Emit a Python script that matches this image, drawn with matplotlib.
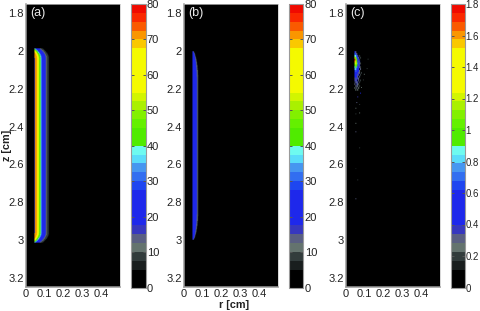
import numpy as np
import matplotlib
matplotlib.use("Agg")
import matplotlib.pyplot as plt
from matplotlib.colors import ListedColormap

plt.rcParams['font.family'] = ['Liberation Sans', 'DejaVu Sans']

W, H = 480, 311
# colormap levels, bottom to top, 32 equal steps
cmap_levels = [(0,0,0)]*2 + [(25,30,30),(50,60,60),(100,115,110),(90,95,130),(55,55,190)] \
    + [(30,40,235)]*4 + [(30,70,240),(50,110,240),(70,150,240),(90,220,250),(110,250,240)] \
    + [(80,235,0)]*2 + [(100,240,0),(130,240,0),(170,240,0),(210,245,0)] \
    + [(245,250,0)]*5 + [(250,200,0),(250,150,0),(250,90,0),(250,40,0),(240,10,0)]

# radial profiles, value against r
a_r = [0.046, 0.047, 0.058, 0.061, 0.067, 0.070, 0.075, 0.078, 0.083, 0.088, 0.098, 0.104, 0.108, 0.114, 0.122, 0.126]
a_v = [0, 71, 71, 62, 58, 46, 43, 38, 30, 25, 23, 18, 11, 9, 7, 0]
b_r = [0.044, 0.045, 0.052, 0.060, 0.066, 0.071, 0.076, 0.079]
b_v = [0, 20, 24, 23, 20, 12, 8, 0]
# how the band shrinks towards its ends, against the distance from the end
cap_d = [0.0, 0.006, 0.012, 0.02, 0.03, 0.04, 0.05, 0.06, 0.09, 0.14]
a_shift = [0.035, 0.027, 0.020, 0.013, 0.006, 0.002, 0.0, 0.0, 0.0, 0.0]
a_width = [1.0, 1.0, 1.0, 1.0, 1.0, 1.0, 1.0, 1.0, 1.0, 1.0]
b_shift = [0.0]*10
b_width = [0.20, 0.32, 0.42, 0.50, 0.58, 0.66, 0.72, 0.78, 0.90, 1.0]
a_z = (1.985, 3.015)
b_z = (2.0, 3.0)

# panel c: main blob, rows in z, columns in r
c_r0 = 0.046
c_dr = 0.005
c_z = [2.00, 2.01, 2.02, 2.03, 2.04, 2.05, 2.06, 2.07, 2.08, 2.09, 2.10, 2.11, 2.12, 2.13, 2.14, 2.15, 2.16, 2.17, 2.18, 2.19, 2.20]
c_table = [
    [.50, .30, 0, 0, 0, 0, 0, 0],
    [.70, .50, .30, 0, 0, 0, 0, 0],
    [.85, .80, .50, .35, 0, .2, 0, 0],
    [1.2, 1.0, .70, .40, .30, 0, .2, 0],
    [1.75, 1.1, .90, .50, .40, .20, 0, 0],
    [1.6, 1.2, 1.0, .60, .30, .45, 0, 0],
    [1.1, 1.3, 1.05, .70, .50, .30, .2, 0],
    [1.0, 1.1, .95, .55, .30, .50, 0, 0],
    [.80, .90, .75, .50, .60, .30, .2, 0],
    [.75, .80, .60, .55, .40, 0, .3, 0],
    [.60, .70, .55, .40, .50, .25, 0, 0],
    [.50, .60, .45, .50, .30, .30, 0, .2],
    [.45, .50, .40, .30, .40, 0, .2, 0],
    [.40, .45, .50, .30, 0, .30, 0, 0],
    [.30, .40, .30, .40, .25, 0, 0, 0],
    [.35, .30, .40, 0, .30, 0, .2, 0],
    [.20, .35, .25, .35, 0, .20, 0, 0],
    [.30, 0, .35, .25, .20, 0, 0, 0],
    [0, .30, .20, .30, 0, .20, 0, 0],
    [.25, 0, .30, 0, .25, 0, 0, 0],
    [0, .25, 0, .25, 0, 0, 0, 0],
]
# panel c: isolated specks
speck_r = [.068, .048, .048, .048, .068, .048, .059, .048, .110, .117, .095, .075, .060, .082, .055, .070, .052, .090]
speck_z = [2.324, 2.33, 2.378, 2.426, 2.511, 2.622, 2.68, 2.78, 2.09, 2.04, 2.12, 2.22, 2.24, 2.19, 2.27, 2.28, 2.30, 2.15]
speck_v = [.25, .2, .25, .3, .2, .15, .2, .3, .2, .2, .25, .4, .35, .25, .3, .2, .25, .2]

xticks = [0, 0.1, 0.2, 0.3, 0.4]
xticklabels = ['0', '0.1', '0.2', '0.3', '0.4']
zticks = [1.8, 2, 2.2, 2.4, 2.6, 2.8, 3, 3.2]
zticklabels = ['1.8', '2', '2.2', '2.4', '2.6', '2.8', '3', '3.2']
cb_ticks_ab = [0, 10, 20, 30, 40, 50, 60, 70, 80]
cb_ticks_c = [0, 0.2, 0.4, 0.6, 0.8, 1, 1.2, 1.4, 1.6, 1.8]
cb_labels_c = ['0', '0.2', '0.4', '0.6', '0.8', '1', '1.2', '1.4', '1.6', '1.8']
panel_labels = ['(a)', '(b)', '(c)']

cmap = ListedColormap([tuple(c/255 for c in col) for col in cmap_levels])


def band(prof_r, prof_v, width, shift, zrange):
    rc = np.arange(0.00125, 0.5, 0.0025)
    zc = np.arange(1.7525, 3.25, 0.005)
    R, Z = np.meshgrid(rc, zc)
    d = np.minimum(Z - zrange[0], zrange[1] - Z)
    w = np.interp(d, cap_d, width)
    s = np.interp(d, cap_d, shift)
    r0 = prof_r[0]
    rr = r0 + (R - r0)/w + s
    V = np.interp(rr, prof_r, prof_v, left=0, right=0)
    V[R < r0] = 0
    V[d < 0] = 0
    return V


def blob():
    V = np.zeros((300, 100))
    zi = lambda z: int(round((z - 1.75)/0.005))
    ri = lambda r: int(round(r/0.005))
    for z, row in zip(c_z, c_table):
        for k, v in enumerate(row):
            V[zi(z):zi(z)+2, ri(c_r0 + k*c_dr)] = v
    for r, z, v in zip(speck_r, speck_z, speck_v):
        V[zi(z), ri(r)] = v
    return V


fields = [band(a_r, a_v, a_width, a_shift, a_z), band(b_r, b_v, b_width, b_shift, b_z), blob()]
vmaxs = [80, 80, 1.8]
ax_left = [26, 184, 346]
cb_left = [131, 289, 450.5]
cb_font = [8.0, 8.0, 6.9]
cb_pad = [0.8, 0.8, 0.2]
grey = '#9a9a9a'
ink = '#222222'
fs = 8.0

fig = plt.figure(figsize=(W/100, H/100), dpi=100)


def box(x0, y0, x1, y1):
    return [x0/W, 1 - y1/H, (x1-x0)/W, (y1-y0)/H]


for i in range(3):
    ax = fig.add_axes(box(ax_left[i], 4, ax_left[i]+94, 287))
    m = ax.imshow(fields[i], cmap=cmap, vmin=0, vmax=vmaxs[i], aspect='auto',
                  extent=[0, 0.5, 3.25, 1.75], interpolation='bilinear', interpolation_stage='rgba')
    ax.set_xticks(xticks, xticklabels)
    ax.set_yticks(zticks, zticklabels)
    ax.tick_params(direction='in', length=0, labelsize=fs, labelcolor=ink, pad=1.5)
    for side, s in ax.spines.items():
        s.set_color(grey if side in ('left', 'bottom') else '#c8c8c8')
        s.set_linewidth(1.1 if side in ('left', 'bottom') else 0.5)
    ax.text(4/94, 1 - 9/283, panel_labels[i], transform=ax.transAxes, color='#e8e8e8', fontsize=9, va='center', ha='left')

    cax = fig.add_axes(box(cb_left[i], 4, cb_left[i]+14.5, 287.5))
    cb = fig.colorbar(m, cax=cax)
    if i < 2:
        cb.set_ticks(cb_ticks_ab, labels=[str(t) for t in cb_ticks_ab])
    else:
        cb.set_ticks(cb_ticks_c, labels=cb_labels_c)
    cax.tick_params(direction='in', length=2.5, width=0.7, color='#555555', left=True, right=True,
                    labelsize=cb_font[i], labelcolor=ink, pad=cb_pad[i])
    cb.outline.set_edgecolor(grey)
    cb.outline.set_linewidth(0.8)

fig.text(6.5/W, 1 - 145/H, 'z [cm]', rotation=90, fontsize=7.8, fontweight='bold', color=ink, ha='center', va='center')
fig.text(234/W, 1 - 305/H, 'r [cm]', fontsize=7.8, fontweight='bold', color=ink, ha='center', va='center')

fig.savefig('out.png', dpi=100)
